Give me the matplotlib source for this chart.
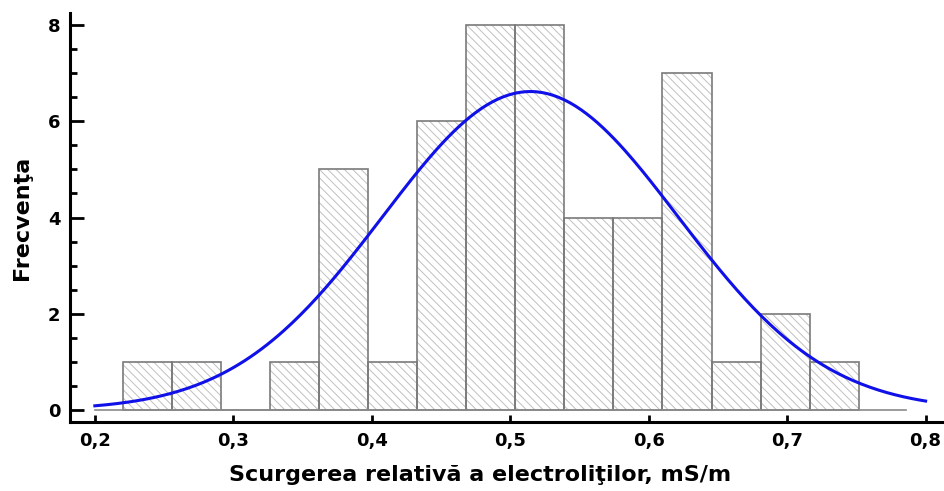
import matplotlib
matplotlib.use("Agg")
import matplotlib.pyplot as plt
import numpy as np

# histogram data
bin_edges = np.linspace(0.2202, 0.7517, 16)
counts = [1, 1, 0, 1, 5, 1, 6, 8, 8, 4, 4, 7, 1, 2, 1]
n_obs = sum(counts)

# fitted normal curve
fit_mean = 0.5145
fit_sd = 0.1068
curve_x = np.linspace(0.2, 0.8, 300)

xticks = [0.2, 0.3, 0.4, 0.5, 0.6, 0.7, 0.8]
xtick_labels = ["0,2", "0,3", "0,4", "0,5", "0,6", "0,7", "0,8"]
yticks = [0, 2, 4, 6, 8]

plt.rcParams["font.family"] = ["DejaVu Sans"]
plt.rcParams["font.weight"] = "bold"
plt.rcParams["hatch.linewidth"] = 0.7

fig = plt.figure(figsize=(9.45, 4.91), dpi=100)
ax = fig.add_axes([0.074, 0.1405, 0.926, 0.833])

widths = np.diff(bin_edges)
lefts = bin_edges[:-1]
ax.bar(lefts, counts, width=widths, align="edge", color="white",
       edgecolor="#c0c0c0", hatch="\\\\\\\\", linewidth=0, zorder=1)
ax.bar(lefts, counts, width=widths, align="edge", fill=False,
       edgecolor="#7a7a7a", linewidth=1.2, zorder=2)
ax.plot([0.2, 0.786], [0, 0], color="#8a8a8a", lw=1.2, zorder=2)

bw = widths.mean()
curve_y = n_obs * bw / (fit_sd * np.sqrt(2 * np.pi)) * np.exp(-0.5 * ((curve_x - fit_mean) / fit_sd) ** 2)
ax.plot(curve_x, curve_y, color="#1010e8", lw=2.2, zorder=3)

ax.set_xlim(0.182, 0.814)
ax.set_ylim(-0.25, 8.25)
ax.spines["top"].set_visible(False)
ax.spines["right"].set_visible(False)
ax.spines["left"].set_linewidth(2.2)
ax.spines["bottom"].set_linewidth(2.2)

ax.set_xticks(xticks)
ax.set_xticklabels(xtick_labels)
ax.set_yticks(yticks)
ax.set_yticks(np.arange(0, 8.01, 0.5), minor=True)
ax.tick_params(axis="y", which="major", direction="in", length=10, width=2, labelsize=13, pad=7)
ax.tick_params(axis="y", which="minor", direction="in", length=5, width=2)
ax.tick_params(axis="x", which="major", direction="in", length=5, width=2, labelsize=13, pad=7)

ax.set_xlabel("Scurgerea relativă a electroliţilor, mS/m", fontsize=16, fontweight="bold", va="center")
ax.xaxis.set_label_coords(0.4686, -0.13)
ax.set_ylabel("Frecvenţa", fontsize=16, fontweight="bold", va="center")
ax.yaxis.set_label_coords(-0.055, 0.5)

fig.savefig("out.png", dpi=100)
